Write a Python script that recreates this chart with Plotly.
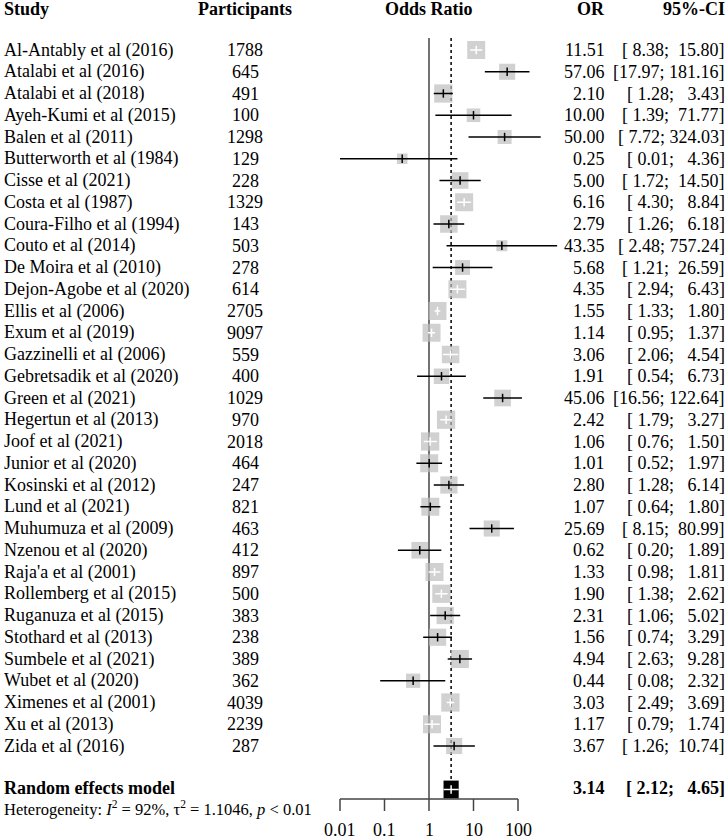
import numpy as np
import plotly.graph_objects as go

# ---------------- data ----------------
studies = [
    "Al-Antably et al (2016)", "Atalabi et al (2016)", "Atalabi et al (2018)",
    "Ayeh-Kumi et al (2015)", "Balen et al (2011)", "Butterworth et al (1984)",
    "Cisse et al (2021)", "Costa et al (1987)", "Coura-Filho et al (1994)",
    "Couto et al (2014)", "De Moira et al (2010)", "Dejon-Agobe et al (2020)",
    "Ellis et al (2006)", "Exum et al (2019)", "Gazzinelli et al (2006)",
    "Gebretsadik et al (2020)", "Green et al (2021)", "Hegertun et al (2013)",
    "Joof et al (2021)", "Junior et al (2020)", "Kosinski et al (2012)",
    "Lund et al (2021)", "Muhumuza et al (2009)", "Nzenou et al (2020)",
    "Raja'a et al (2001)", "Rollemberg et al (2015)", "Ruganuza et al (2015)",
    "Stothard et al (2013)", "Sumbele et al (2021)", "Wubet et al (2020)",
    "Ximenes et al (2001)", "Xu et al (2013)", "Zida et al (2016)",
]
participants = [1788, 645, 491, 100, 1298, 129, 228, 1329, 143, 503, 278, 614,
                2705, 9097, 559, 400, 1029, 970, 2018, 464, 247, 821, 463, 412,
                897, 500, 383, 238, 389, 362, 4039, 2239, 287]
odds_ratio = [11.51, 57.06, 2.10, 10.00, 50.00, 0.25, 5.00, 6.16, 2.79, 43.35,
              5.68, 4.35, 1.55, 1.14, 3.06, 1.91, 45.06, 2.42, 1.06, 1.01, 2.80,
              1.07, 25.69, 0.62, 1.33, 1.90, 2.31, 1.56, 4.94, 0.44, 3.03, 1.17,
              3.67]
ci_lower = [8.38, 17.97, 1.28, 1.39, 7.72, 0.01, 1.72, 4.30, 1.26, 2.48, 1.21,
            2.94, 1.33, 0.95, 2.06, 0.54, 16.56, 1.79, 0.76, 0.52, 1.28, 0.64,
            8.15, 0.20, 0.98, 1.38, 1.06, 0.74, 2.63, 0.08, 2.49, 0.79, 1.26]
ci_upper = [15.80, 181.16, 3.43, 71.77, 324.03, 4.36, 14.50, 8.84, 6.18, 757.24,
            26.59, 6.43, 1.80, 1.37, 4.54, 6.73, 122.64, 3.27, 1.50, 1.97, 6.14,
            1.80, 80.99, 1.89, 1.81, 2.62, 5.02, 3.29, 9.28, 2.32, 3.69, 1.74,
            10.74]
# random-effects weights (%), estimated from the square sizes
weights = [3.5, 2.8, 3.6, 2.0, 2.1, 1.2, 3.0, 3.5, 3.3, 1.3, 2.4, 3.5, 3.5, 3.5,
           3.3, 2.6, 3.0, 3.6, 3.6, 3.5, 3.2, 3.5, 2.8, 3.0, 3.5, 3.6, 3.2, 3.2,
           3.5, 2.2, 3.6, 3.5, 2.8]

pooled_label = "Random effects model"
pooled_or = 3.14
pooled_lower = 2.12
pooled_upper = 4.65
heterogeneity = ("Heterogeneity: <i>I</i><sup>2</sup> = 92%, "
                 "\u03c4<sup>2</sup> = 1.1046, <i>p</i> &lt; 0.01")

headers = ["Study", "Participants", "Odds Ratio", "OR", "95%-CI"]
axis_ticks = [0.01, 0.1, 1, 10, 100]
axis_tick_labels = ["0.01", "0.1", "1", "10", "100"]

# ---------------- layout constants ----------------
W, H = 727, 840
PPD = 44.5          # pixels per decade on the OR scale
X_ONE = 429         # pixel position of OR = 1
ROW0 = 50           # pixel of first study row
ROWH = 21.75        # row height in pixels
FONT = "Liberation Serif, Times New Roman, serif"
FS = 18
NB = "\u00a0"

COL_STUDY = 3
COL_PART = 245
COL_OR = 606
COL_CI = 726

n = len(studies)
rows = np.arange(n)
ROW_POOLED = n + 1
ROW_POOLED_TXT = ROW_POOLED - 0.05
ROW_HET = ROW_POOLED + 0.88
ROW_AXIS = ROW_POOLED + 0.44
ROW_TICK = ROW_AXIS + 0.55
ROW_TICKLAB = ROW_AXIS + 1.42
ROW_HEAD = -1.9
ROW_TOP = -0.55


def px(xpix):
    return xpix / W


def fmt_ci(lo, hi):
    s = "[" + f"{lo:.2f}".rjust(5) + "; " + f"{hi:.2f}".rjust(6) + "]"
    return s.replace(" ", NB)


lx = np.log10(odds_ratio)
llo = np.log10(ci_lower)
lhi = np.log10(ci_upper)
sides = 18 / np.sqrt(3.5) * np.sqrt(np.array(weights))
inside = (lhi - llo) * PPD < sides

fig = go.Figure()

# squares
fig.add_trace(go.Scatter(
    x=lx, y=rows, mode="markers",
    marker=dict(symbol="square", size=sides, color="#BEBEBE", line=dict(width=0)),
    hoverinfo="skip", showlegend=False))


def seg_trace(mask, color):
    xs, ys = [], []
    for i in np.where(mask)[0]:
        xs += [llo[i], lhi[i], None]
        ys += [rows[i], rows[i], None]
    return go.Scatter(x=xs, y=ys, mode="lines", line=dict(color=color, width=1.5),
                      hoverinfo="skip", showlegend=False)


fig.add_trace(seg_trace(~inside, "black"))
fig.add_trace(seg_trace(inside, "white"))

# point ticks
fig.add_trace(go.Scatter(
    x=lx, y=rows, mode="markers",
    marker=dict(symbol="line-ns", size=6,
                line=dict(width=1.5, color=["white" if f else "black" for f in inside])),
    hoverinfo="skip", showlegend=False))

# pooled estimate box with white cross
fig.add_trace(go.Scatter(
    x=[np.log10(pooled_lower), np.log10(pooled_upper), np.log10(pooled_upper),
       np.log10(pooled_lower), np.log10(pooled_lower)],
    y=[ROW_POOLED - 0.41, ROW_POOLED - 0.41, ROW_POOLED + 0.41, ROW_POOLED + 0.41,
       ROW_POOLED - 0.41],
    mode="lines", fill="toself", fillcolor="black", line=dict(width=0, color="black"),
    hoverinfo="skip", showlegend=False))
fig.add_trace(go.Scatter(
    x=[np.log10(pooled_lower), np.log10(pooled_upper)], y=[ROW_POOLED, ROW_POOLED],
    mode="lines", line=dict(color="white", width=1.5), hoverinfo="skip",
    showlegend=False))
fig.add_trace(go.Scatter(
    x=[np.log10(pooled_or)], y=[ROW_POOLED], mode="markers",
    marker=dict(symbol="line-ns", size=6, line=dict(width=1.5, color="white")),
    hoverinfo="skip", showlegend=False))

shapes = []
# reference line at OR = 1
shapes.append(dict(type="line", xref="x", yref="y", x0=0, x1=0, y0=ROW_TOP,
                   y1=ROW_AXIS, line=dict(color="#444", width=1.5), layer="below"))
# dotted line at pooled estimate
shapes.append(dict(type="line", xref="x", yref="y", x0=np.log10(pooled_or),
                   x1=np.log10(pooled_or), y0=ROW_TOP, y1=ROW_POOLED,
                   line=dict(color="black", width=1.5, dash="dot"), layer="below"))
# axis line and ticks
lt = np.log10(axis_ticks)
shapes.append(dict(type="line", xref="x", yref="y", x0=lt[0], x1=lt[-1],
                   y0=ROW_AXIS, y1=ROW_AXIS, line=dict(color="#444", width=1.5)))
for t in lt:
    shapes.append(dict(type="line", xref="x", yref="y", x0=t, x1=t, y0=ROW_AXIS,
                       y1=ROW_TICK, line=dict(color="#444", width=1.5)))

ann = []


def text(x, y, s, anchor, bold=False, size=FS, xref="paper"):
    if bold:
        s = "<b>" + s + "</b>"
    ann.append(dict(x=x, y=y, xref=xref, yref="y", text=s, showarrow=False,
                    xanchor=anchor, yanchor="middle",
                    font=dict(family=FONT, size=size, color="black")))


# headers
text(px(COL_STUDY - 1), ROW_HEAD, headers[0], "left", True)
text(px(COL_PART), ROW_HEAD, headers[1], "center", True)
text(0, ROW_HEAD, headers[2], "center", True, xref="x")
text(px(COL_OR + 1), ROW_HEAD, headers[3], "right", True)
text(px(COL_CI + 1), ROW_HEAD, headers[4], "right", True)

for i in range(n):
    text(px(COL_STUDY - 1), i, studies[i], "left")
    text(px(COL_PART), i, str(participants[i]), "center")
    text(px(COL_OR + 1), i, f"{odds_ratio[i]:.2f}", "right")
    text(px(COL_CI + 1), i, fmt_ci(ci_lower[i], ci_upper[i]), "right")

text(px(COL_STUDY - 1), ROW_POOLED_TXT, pooled_label, "left", True)
text(px(COL_OR + 1), ROW_POOLED_TXT, f"{pooled_or:.2f}", "right", True)
text(px(COL_CI + 1), ROW_POOLED_TXT, fmt_ci(pooled_lower, pooled_upper), "right", True)
text(px(COL_STUDY - 1), ROW_HET, heterogeneity, "left", size=16.5)

for t, lab in zip(lt, axis_tick_labels):
    text(t, ROW_TICKLAB, lab, "center", xref="x")

fig.update_layout(
    width=W, height=H,
    margin=dict(l=0, r=0, t=0, b=0),
    paper_bgcolor="white", plot_bgcolor="white",
    xaxis=dict(range=[-X_ONE / PPD, (W - X_ONE) / PPD], visible=False,
               fixedrange=True),
    yaxis=dict(range=[(H - ROW0) / ROWH, -ROW0 / ROWH], visible=False,
               fixedrange=True),
    shapes=shapes, annotations=ann, showlegend=False,
)

fig.write_html("out.html", config={"displayModeBar": False},
               post_script="document.body.style.margin='0px';")
